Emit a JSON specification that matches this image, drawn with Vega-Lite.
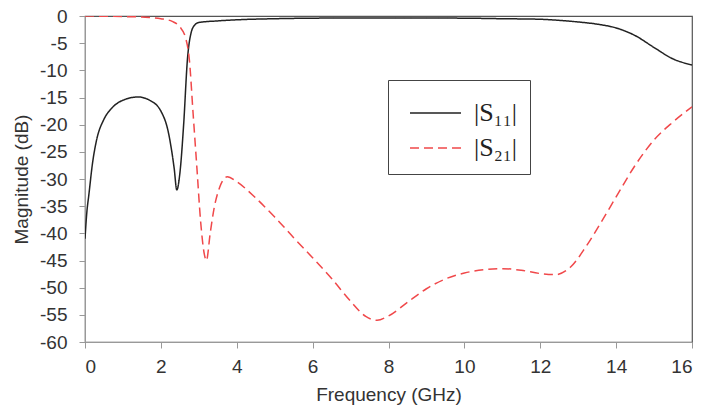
{
  "$schema": "https://vega.github.io/schema/vega-lite/v6.json",
  "autosize": "none",
  "width": 607,
  "height": 326,
  "padding": {"left": 85, "top": 16, "right": 12, "bottom": 71},
  "background": "white",
  "config": {
    "view": {"stroke": "#555", "strokeWidth": 1.2},
    "font": "Liberation Sans",
    "legend": {
      "orient": "none", "legendX": 303, "legendY": 64,
      "symbolType": "M-1.342,0H1.342", "symbolSize": 1444, "symbolStrokeWidth": 1.5, "symbolOffset": 14.5,
      "labelFont": "Liberation Serif", "labelFontSize": 26, "labelColor": "#222",
      "labelOffset": 18.5, "strokeColor": "#444", "padding": 13,
      "fillColor": "white"
    }
  },
  "data": {
    "values": [
      {"f": 0, "db": -41, "s": "|S₁₁|"},
      {"f": 0.05, "db": -36, "s": "|S₁₁|"},
      {"f": 0.1, "db": -33, "s": "|S₁₁|"},
      {"f": 0.2, "db": -27, "s": "|S₁₁|"},
      {"f": 0.3, "db": -23, "s": "|S₁₁|"},
      {"f": 0.5, "db": -19, "s": "|S₁₁|"},
      {"f": 0.7, "db": -17, "s": "|S₁₁|"},
      {"f": 1.0, "db": -15.5, "s": "|S₁₁|"},
      {"f": 1.4, "db": -14.9, "s": "|S₁₁|"},
      {"f": 1.7, "db": -15.5, "s": "|S₁₁|"},
      {"f": 2.0, "db": -17.5, "s": "|S₁₁|"},
      {"f": 2.2, "db": -21.5, "s": "|S₁₁|"},
      {"f": 2.35, "db": -28, "s": "|S₁₁|"},
      {"f": 2.42, "db": -32, "s": "|S₁₁|"},
      {"f": 2.5, "db": -29, "s": "|S₁₁|"},
      {"f": 2.6, "db": -20, "s": "|S₁₁|"},
      {"f": 2.7, "db": -8, "s": "|S₁₁|"},
      {"f": 2.8, "db": -3, "s": "|S₁₁|"},
      {"f": 2.9, "db": -1.6, "s": "|S₁₁|"},
      {"f": 3.0, "db": -1.2, "s": "|S₁₁|"},
      {"f": 3.5, "db": -0.9, "s": "|S₁₁|"},
      {"f": 4, "db": -0.7, "s": "|S₁₁|"},
      {"f": 5, "db": -0.5, "s": "|S₁₁|"},
      {"f": 6, "db": -0.4, "s": "|S₁₁|"},
      {"f": 8, "db": -0.35, "s": "|S₁₁|"},
      {"f": 10, "db": -0.4, "s": "|S₁₁|"},
      {"f": 11, "db": -0.5, "s": "|S₁₁|"},
      {"f": 12, "db": -0.6, "s": "|S₁₁|"},
      {"f": 12.5, "db": -0.8, "s": "|S₁₁|"},
      {"f": 13, "db": -1.1, "s": "|S₁₁|"},
      {"f": 13.5, "db": -1.5, "s": "|S₁₁|"},
      {"f": 14, "db": -2.2, "s": "|S₁₁|"},
      {"f": 14.5, "db": -3.6, "s": "|S₁₁|"},
      {"f": 15, "db": -5.8, "s": "|S₁₁|"},
      {"f": 15.5, "db": -7.9, "s": "|S₁₁|"},
      {"f": 16, "db": -9.0, "s": "|S₁₁|"},
      {"f": 0, "db": 0, "s": "|S₂₁|"},
      {"f": 1, "db": -0.1, "s": "|S₂₁|"},
      {"f": 1.5, "db": -0.2, "s": "|S₂₁|"},
      {"f": 2, "db": -0.5, "s": "|S₂₁|"},
      {"f": 2.3, "db": -1, "s": "|S₂₁|"},
      {"f": 2.5, "db": -2, "s": "|S₂₁|"},
      {"f": 2.65, "db": -4, "s": "|S₂₁|"},
      {"f": 2.75, "db": -8, "s": "|S₂₁|"},
      {"f": 2.85, "db": -18, "s": "|S₂₁|"},
      {"f": 2.95, "db": -28, "s": "|S₂₁|"},
      {"f": 3.05, "db": -38, "s": "|S₂₁|"},
      {"f": 3.15, "db": -44, "s": "|S₂₁|"},
      {"f": 3.2, "db": -45, "s": "|S₂₁|"},
      {"f": 3.3, "db": -40, "s": "|S₂₁|"},
      {"f": 3.4, "db": -35.5, "s": "|S₂₁|"},
      {"f": 3.55, "db": -31.5, "s": "|S₂₁|"},
      {"f": 3.75, "db": -29.6, "s": "|S₂₁|"},
      {"f": 4.0, "db": -30.5, "s": "|S₂₁|"},
      {"f": 4.5, "db": -33.5, "s": "|S₂₁|"},
      {"f": 5, "db": -37, "s": "|S₂₁|"},
      {"f": 5.5, "db": -40.8, "s": "|S₂₁|"},
      {"f": 6, "db": -44.5, "s": "|S₂₁|"},
      {"f": 6.5, "db": -48.3, "s": "|S₂₁|"},
      {"f": 7, "db": -52.5, "s": "|S₂₁|"},
      {"f": 7.4, "db": -55.3, "s": "|S₂₁|"},
      {"f": 7.7, "db": -56, "s": "|S₂₁|"},
      {"f": 8.0, "db": -55.2, "s": "|S₂₁|"},
      {"f": 8.5, "db": -52.7, "s": "|S₂₁|"},
      {"f": 9, "db": -50.2, "s": "|S₂₁|"},
      {"f": 9.5, "db": -48.4, "s": "|S₂₁|"},
      {"f": 10, "db": -47.3, "s": "|S₂₁|"},
      {"f": 10.5, "db": -46.7, "s": "|S₂₁|"},
      {"f": 11, "db": -46.5, "s": "|S₂₁|"},
      {"f": 11.5, "db": -46.8, "s": "|S₂₁|"},
      {"f": 12, "db": -47.4, "s": "|S₂₁|"},
      {"f": 12.4, "db": -47.6, "s": "|S₂₁|"},
      {"f": 12.8, "db": -46.2, "s": "|S₂₁|"},
      {"f": 13.2, "db": -42.5, "s": "|S₂₁|"},
      {"f": 13.6, "db": -38, "s": "|S₂₁|"},
      {"f": 14, "db": -33.3, "s": "|S₂₁|"},
      {"f": 14.5, "db": -27.5, "s": "|S₂₁|"},
      {"f": 15, "db": -22.8, "s": "|S₂₁|"},
      {"f": 15.5, "db": -19.5, "s": "|S₂₁|"},
      {"f": 16, "db": -16.7, "s": "|S₂₁|"}
    ]
  },
  "mark": {"type": "line", "interpolate": "monotone", "strokeWidth": 1.5, "clip": true},
  "encoding": {
    "x": {
      "field": "f", "type": "quantitative",
      "scale": {"domain": [0, 16], "nice": false, "zero": false},
      "axis": {
        "title": "Frequency (GHz)", "values": [0, 2, 4, 6, 8, 10, 12, 14, 16],
        "grid": false, "domainColor": "#999", "tickColor": "#999", "tickSize": 6,
        "labelFontSize": 19, "labelColor": "#333", "labelPadding": 9,
        "labelFont": "Liberation Sans", "titleFont": "Liberation Sans",
        "titleFontSize": 19, "titleFontWeight": "normal", "titleColor": "#333", "titlePadding": 9,
        "labelExpr": "'' + datum.value"
      }
    },
    "y": {
      "field": "db", "type": "quantitative",
      "scale": {"domain": [-60, 0], "nice": false, "zero": false},
      "axis": {
        "title": "Magnitude (dB)", "values": [-60, -55, -50, -45, -40, -35, -30, -25, -20, -15, -10, -5, 0],
        "grid": false, "domainColor": "#999", "tickColor": "#999", "tickSize": 6,
        "labelFontSize": 19, "labelColor": "#333", "labelPadding": 12,
        "labelFont": "Liberation Sans", "titleFont": "Liberation Sans",
        "titleFontSize": 19, "titleFontWeight": "normal", "titleColor": "#333", "titlePadding": 8,
        "labelExpr": "'' + datum.value"
      }
    },
    "color": {
      "field": "s", "type": "nominal",
      "scale": {"domain": ["|S₁₁|", "|S₂₁|"], "range": ["#222222", "#f0484a"]},
      "legend": {"title": null}
    },
    "strokeDash": {
      "field": "s", "type": "nominal",
      "scale": {"domain": ["|S₁₁|", "|S₂₁|"], "range": [[1, 0], [9, 5]]},
      "legend": {"title": null}
    }
  }
}
